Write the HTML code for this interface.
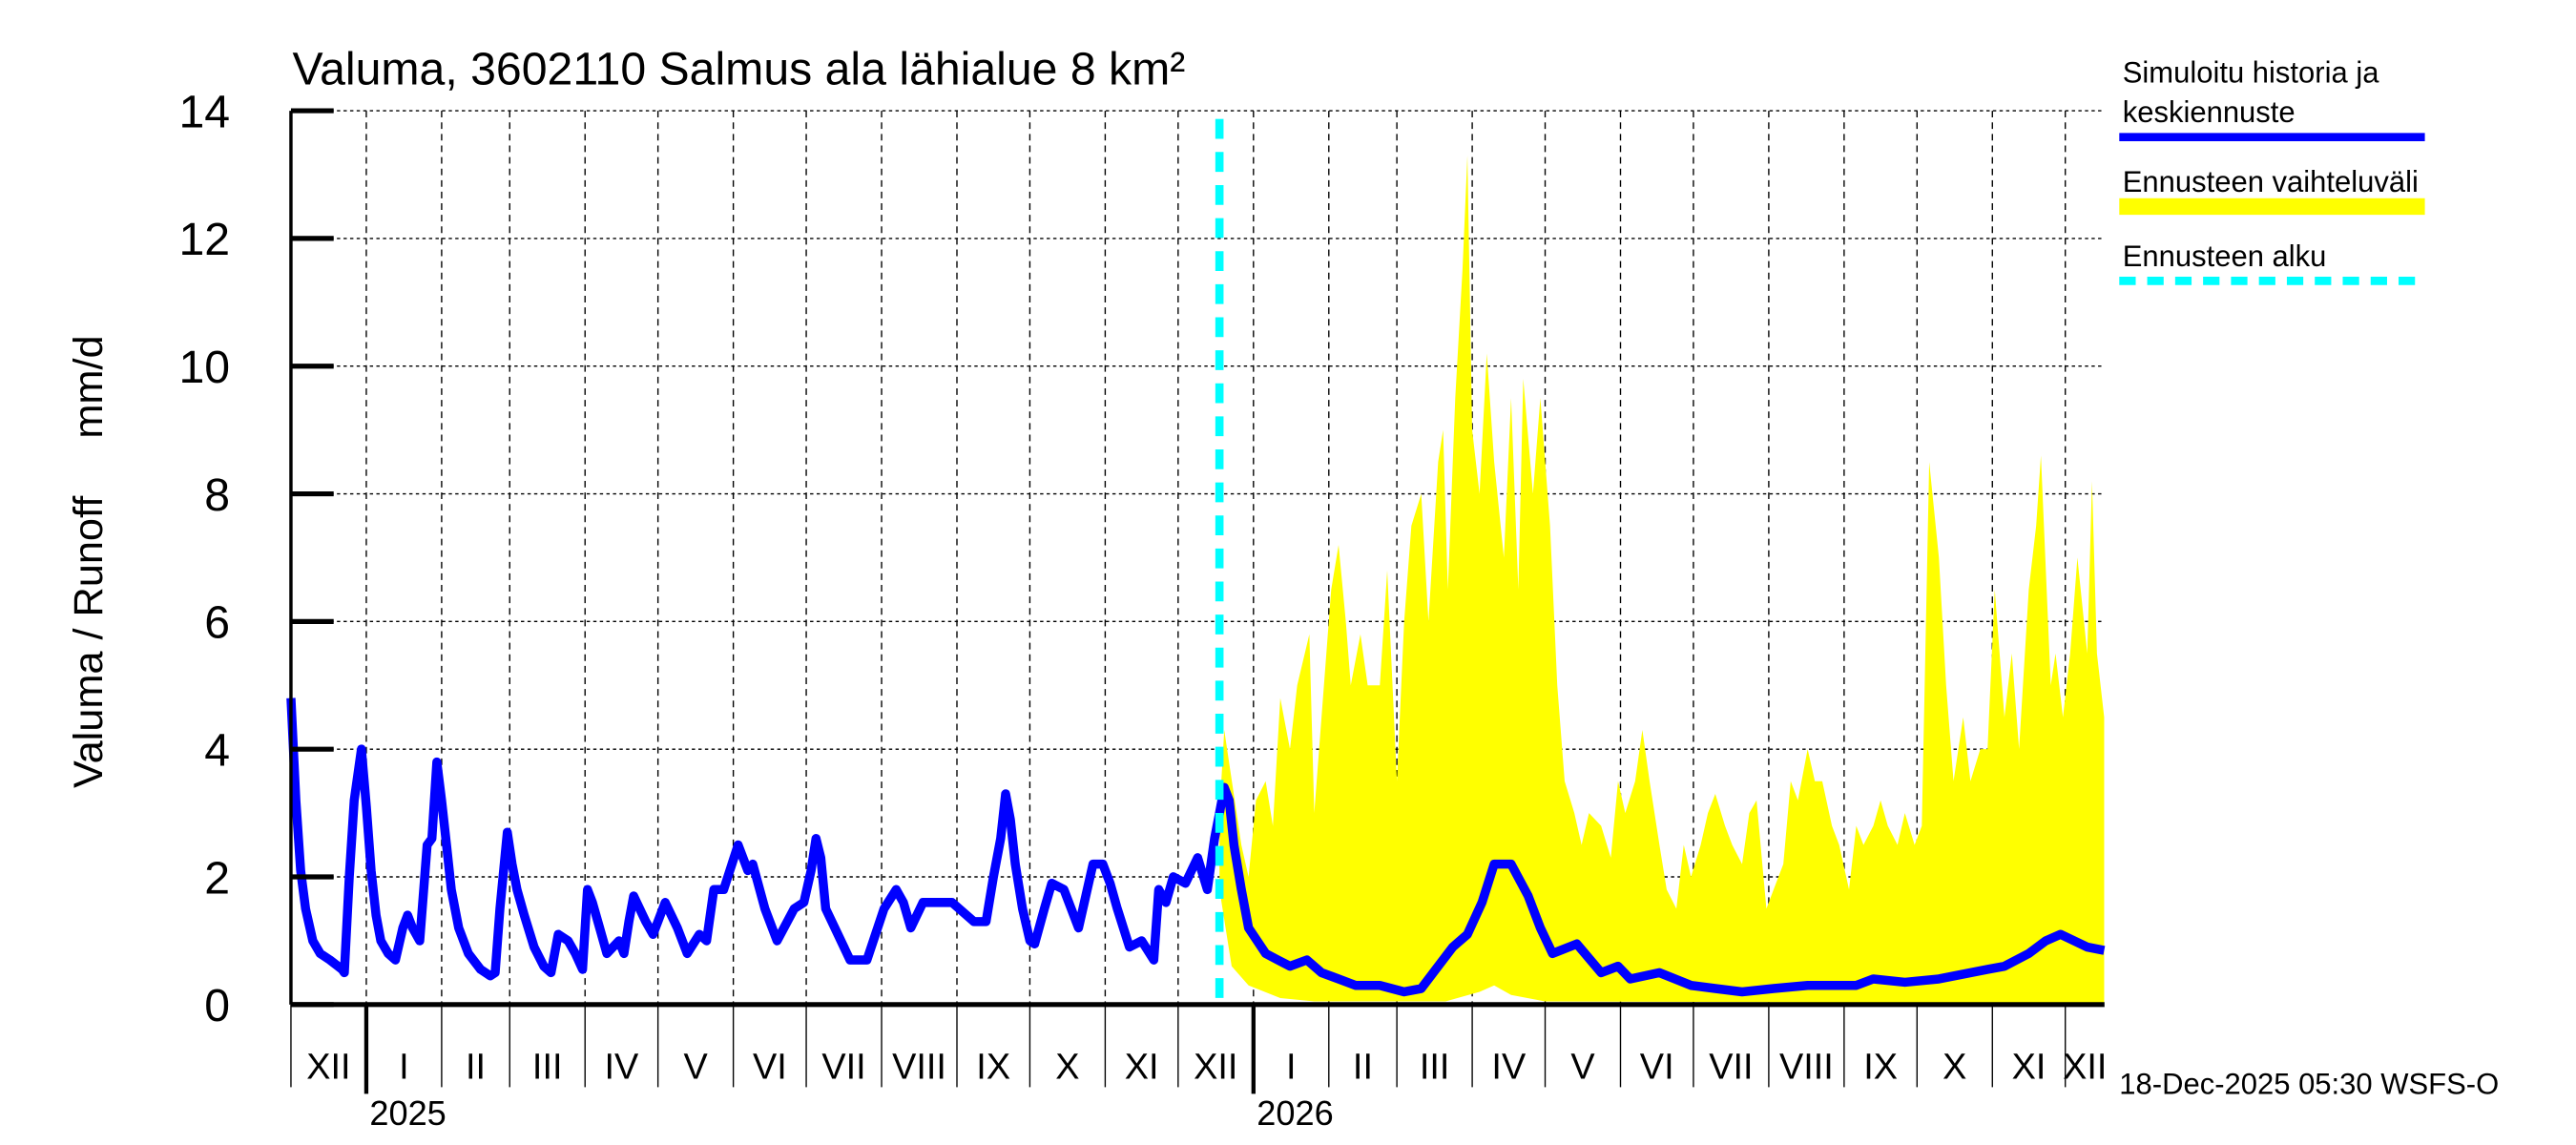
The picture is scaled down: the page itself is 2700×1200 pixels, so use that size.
<!DOCTYPE html>
<html><head><meta charset="utf-8"><style>html,body{margin:0;padding:0;background:#fff}svg{display:block}</style></head>
<body>
<svg id="chart" width="2700" height="1200" viewBox="0 0 1568 693" preserveAspectRatio="none" xmlns="http://www.w3.org/2000/svg" font-family="Liberation Sans, sans-serif">
<g id="grid"></g>
<g id="band"></g>
<g id="lines"></g>
<g id="axes"></g>
<text x="178" y="51" font-size="28">Valuma, 3602110 Salmus ala lähialue 8 km²</text>
<text transform="translate(62,340) rotate(-90)" text-anchor="middle" font-size="25" xml:space="preserve">Valuma / Runoff     mm/d</text>
<g font-size="18">
<text x="1292" y="50">Simuloitu historia ja</text>
<text x="1292" y="74">keskiennuste</text>
<line x1="1290" y1="83" x2="1476" y2="83" stroke="#0000ff" stroke-width="5"/>
<text x="1292" y="116">Ennusteen vaihteluväli</text>
<line x1="1290" y1="125" x2="1476" y2="125" stroke="#ffff00" stroke-width="10"/>
<text x="1292" y="161">Ennusteen alku</text>
<line x1="1290" y1="170" x2="1476" y2="170" stroke="#00ffff" stroke-width="5" stroke-dasharray="10,7"/>
</g>
<text x="1290" y="662" font-size="18">18-Dec-2025 05:30 WSFS-O</text>
</svg>
<script>
const histDays=[0,2,4,6,9,12,16,21,22,24,26,29,31,33,35,37,40,43,46,48,50,53,56,58,60,62,64,66,69,73,78,82,84,86,89,91,93,96,100,104,107,110,114,117,120,122,124,127,130,135,137,139,141,146,149,154,159,163,168,171,174,178,184,188,190,195,200,207,211,214,216,218,220,225,230,237,244,249,252,255,260,272,281,286,289,292,294,296,298,301,304,306,310,313,318,324,330,334,337,340,345,350,355,357,360,363,368,373,377,380,382,384,386,388,391,394,401,406,411,418,424,431,438,448,458,465,472,478,484,490,495,502,509,514,519,529,539,546,551,563,576,586,597,610,624,637,644,651,664,678,691,698,705,715,722,728,739,746];
const histVals=[4.8,3.2,2.1,1.5,1.0,0.8,0.7,0.55,0.5,2.0,3.2,4.0,3.1,2.1,1.4,1.0,0.8,0.7,1.2,1.4,1.2,1.0,2.5,2.6,3.8,3.2,2.5,1.8,1.2,0.8,0.55,0.45,0.5,1.5,2.7,2.2,1.8,1.4,0.9,0.6,0.5,1.1,1.0,0.8,0.55,1.8,1.6,1.2,0.8,1.0,0.8,1.3,1.7,1.3,1.1,1.6,1.2,0.8,1.1,1.0,1.8,1.8,2.5,2.1,2.2,1.5,1.0,1.5,1.6,2.1,2.6,2.3,1.5,1.1,0.7,0.7,1.5,1.8,1.6,1.2,1.6,1.6,1.3,1.3,2.0,2.6,3.3,2.9,2.2,1.5,1.0,0.95,1.5,1.9,1.8,1.2,2.2,2.2,1.9,1.5,0.9,1.0,0.7,1.8,1.6,2.0,1.9,2.3,1.8,2.6,3.0,3.4,3.2,2.5,1.8,1.2,0.8,0.7,0.6,0.7,0.5,0.4,0.3,0.3,0.2,0.25,0.6,0.9,1.1,1.6,2.2,2.2,1.7,1.2,0.8,0.95,0.5,0.6,0.4,0.5,0.3,0.25,0.2,0.25,0.3,0.3,0.3,0.4,0.35,0.4,0.5,0.55,0.6,0.8,1.0,1.1,0.9,0.85,0.8];
const upDays=[382,384,391,394,397,401,404,407,411,414,419,421,424,428,431,434,436,440,443,448,451,455,458,461,465,468,472,474,476,479,482,484,486,489,492,495,499,502,505,507,511,514,518,521,524,528,531,534,539,543,546,549,553,556,559,563,566,570,573,576,580,583,586,590,593,597,600,603,607,610,614,617,620,624,627,630,634,637,641,644,647,651,654,657,661,664,668,671,674,678,681,684,688,691,695,698,701,705,708,711,715,718,720,724,726,729,732,735,739,741,743,746];
const upVals=[3.0,4.3,2.5,2.0,3.2,3.5,2.8,4.8,4.0,5.0,5.8,3.0,4.5,6.5,7.2,6.0,5.0,5.8,5.0,5.0,6.8,3.5,6.0,7.5,8.0,6.0,8.5,9.0,6.5,9.5,11.5,13.3,9.0,8.0,10.2,8.5,7.0,9.5,6.5,9.8,8.0,9.5,7.5,5.0,3.5,3.0,2.5,3.0,2.8,2.3,3.5,3.0,3.5,4.3,3.5,2.5,1.8,1.5,2.5,2.0,2.5,3.0,3.3,2.8,2.5,2.2,3.0,3.2,1.5,1.8,2.2,3.5,3.2,4.0,3.5,3.5,2.8,2.5,1.8,2.8,2.5,2.8,3.2,2.8,2.5,3.0,2.5,2.8,8.5,7.0,5.0,3.5,4.5,3.5,4.0,4.0,6.5,4.5,5.5,4.0,6.5,7.5,8.6,5.0,5.5,4.5,5.5,7.0,5.5,8.2,5.5,4.5];
const lowDays=[382,387,394,407,421,475,489,495,502,516,746];
const lowVals=[1.8,0.6,0.3,0.1,0.05,0.05,0.2,0.3,0.15,0.05,0.02];
const forecastStartDay=382;
const yTicks=[0,2,4,6,8,10,12,14];
const monthLabels=["XII","I","II","III","IV","V","VI","VII","VIII","IX","X","XI","XII","I","II","III","IV","V","VI","VII","VIII","IX","X","XI","XII"];
const monthLengths=[31,31,28,31,30,31,30,31,31,30,31,30,31,31,28,31,30,31,30,31,31,30,31,30,31];
const yearLabels=["2025","2026"];
const yearStartDays=[31,396];

const X0=177.1,PXD=1.4795,XMAX=1281,Y0=608,PXV=38.64;
const xs=d=>X0+d*PXD, ys=v=>Y0-v*PXV;
const NS="http://www.w3.org/2000/svg";
function mk(tag,parent,attrs){const e=document.createElementNS(NS,tag);for(const k in attrs)e.setAttribute(k,attrs[k]);parent.appendChild(e);return e;}
const grid=document.getElementById('grid'),axes=document.getElementById('axes'),band=document.getElementById('band'),lines=document.getElementById('lines');

yTicks.forEach(v=>{
  if(v>0){const g=mk('line',grid,{x1:X0,x2:XMAX,y1:ys(v),y2:ys(v),stroke:'#000','stroke-width':0.8,'stroke-dasharray':'2,2'});
  
  }
  const t=mk('line',axes,{x1:X0,x2:X0+26,y1:ys(v),y2:ys(v),stroke:'#000','stroke-width':3});
  
  
  const l=mk('text',axes,{x:140,y:ys(v)+10,'text-anchor':'end','font-size':28});
  l.textContent=v;
  
  
});
let d=0;
monthLabels.forEach((m,i)=>{
  const x=xs(d), len=monthLengths[i];
  const isYear=yearStartDays.includes(d);
  if(d>0&&x<XMAX){
    const g=mk('line',grid,{x1:x,x2:x,y1:ys(14),y2:Y0,stroke:'#000','stroke-width':0.8,'stroke-dasharray':'4,3'});
    
    
  }
  if(x<=XMAX){
    const t=mk('line',axes,{x1:x,x2:x,y1:Y0,y2:isYear?662:658,stroke:'#000','stroke-width':isYear?2.5:0.8});
    
    
    const cx=xs(d+len)>XMAX?(x+XMAX)/2:xs(d+len/2);
    const l=mk('text',axes,{x:cx,y:653,'text-anchor':'middle','font-size':22});
    l.textContent=m;
    
    
  }
  d+=len;
});
yearLabels.forEach((y,i)=>{
  const l=mk('text',axes,{x:xs(yearStartDays[i])+2,y:681,'font-size':21});
  l.textContent=y;
  
  
});

let p='M'+upDays.map((dd,i)=>xs(dd).toFixed(1)+','+ys(upVals[i]).toFixed(1)).join('L');
for(let i=lowDays.length-1;i>=0;i--)p+='L'+xs(lowDays[i]).toFixed(1)+','+ys(lowVals[i]).toFixed(1);
const ar=mk('path',band,{d:p+'Z',fill:'#ffff00',stroke:'none'});



const hl=mk('polyline',lines,{points:histDays.map((dd,i)=>xs(dd).toFixed(1)+','+ys(histVals[i]).toFixed(1)).join(' '),fill:'none',stroke:'#0000ff','stroke-width':5.5,'stroke-linejoin':'round'});



const fs=mk('line',lines,{x1:xs(forecastStartDay),x2:xs(forecastStartDay),y1:72,y2:Y0,stroke:'#00ffff','stroke-width':5,'stroke-dasharray':'12,8'});



const ya=mk('line',axes,{x1:X0,x2:X0,y1:ys(14),y2:Y0,stroke:'#000','stroke-width':2});


const xa=mk('line',axes,{x1:X0,x2:XMAX,y1:Y0,y2:Y0,stroke:'#000','stroke-width':3});


</script>
</body></html>
